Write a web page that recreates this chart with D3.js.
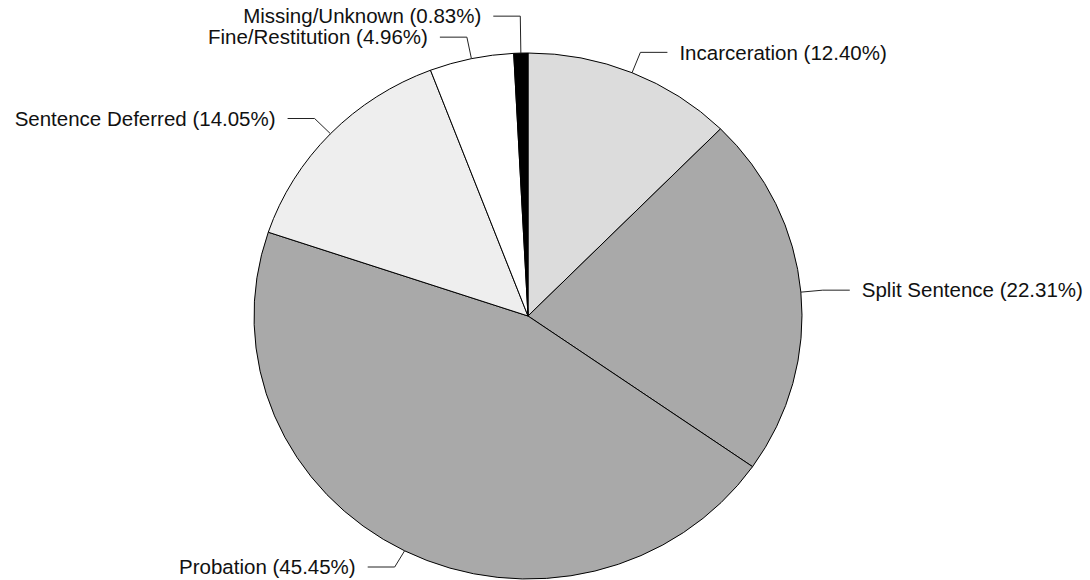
<!DOCTYPE html>
<html>
<head>
<meta charset="utf-8">
<script src="https://cdn.jsdelivr.net/npm/d3@7"></script>
<style>
  html, body { margin: 0; padding: 0; background: #fff; }
  svg { display: block; }
  text { font-family: "Liberation Sans", Arial, Helvetica, sans-serif; font-size: 20.5px; fill: #111; }
</style>
</head>
<body>
<svg id="chart" width="1090" height="580"></svg>
<script>
// Sentence type distribution
const categories = ["Incarceration", "Split Sentence", "Probation", "Sentence Deferred", "Fine/Restitution", "Missing/Unknown"];
const percents   = [12.40, 22.31, 45.45, 14.05, 4.96, 0.83];
const fills      = ["#dcdcdc", "#a9a9a9", "#a9a9a9", "#eeeeee", "#ffffff", "#000000"];

const W = 1090, H = 580;
const cx = 528, cy = 316;
const rx = 274, ry = 263;          // slightly wider than tall
const elbowOut = 22, hLen = 27, textGap = 12, minSpacing = 21;

const svg = d3.select("#chart");

const data = categories.map((c, i) => ({ name: c, value: percents[i], fill: fills[i] }));

const pie = d3.pie().value(d => d.value).sort(null).startAngle(0).endAngle(2 * Math.PI);
const arcs = pie(data);

const arc = d3.arc().innerRadius(0).outerRadius(ry);

// Slices (circle stretched horizontally into the ellipse)
const g = svg.append("g").attr("transform", `translate(${cx},${cy}) scale(${rx / ry},1)`);
g.selectAll("path.slice")
  .data(arcs)
  .join("path")
  .attr("class", "slice")
  .attr("d", arc)
  .attr("fill", d => d.data.fill)
  .attr("stroke", "#000")
  .attr("stroke-width", 1)
  .attr("vector-effect", "non-scaling-stroke");

// Label layout
const labels = arcs.map(a => {
  const m = (a.startAngle + a.endAngle) / 2;
  const s = Math.sin(m), c = Math.cos(m);
  const ex = cx + rx * s, ey = cy - ry * c;
  const bx = cx + (rx + elbowOut) * s, by = cy - (ry + elbowOut) * c;
  return { d: a.data, side: s >= 0 ? 1 : -1, ex, ey, bx, by, ly: Math.min(by, H - 13) };
});

// Keep labels on each side from overlapping
[-1, 1].forEach(side => {
  const group = labels.filter(l => l.side === side).sort((a, b) => b.ly - a.ly);
  for (let i = 1; i < group.length; i++) {
    if (group[i].ly > group[i - 1].ly - minSpacing) group[i].ly = group[i - 1].ly - minSpacing;
  }
});

const fmt = d3.format(".2f");

svg.append("g")
  .selectAll("path.leader")
  .data(labels)
  .join("path")
  .attr("class", "leader")
  .attr("fill", "none")
  .attr("stroke", "#222")
  .attr("stroke-width", 1)
  .attr("d", l => d3.line()([[l.ex, l.ey], [l.bx, l.ly], [l.bx + l.side * hLen, l.ly]]));

svg.append("g")
  .selectAll("text")
  .data(labels)
  .join("text")
  .attr("x", l => l.bx + l.side * (hLen + textGap))
  .attr("y", l => l.ly)
  .attr("dy", "0.35em")
  .attr("text-anchor", l => l.side > 0 ? "start" : "end")
  .text(l => `${l.d.name} (${fmt(l.d.value)}%)`);
</script>
</body>
</html>
